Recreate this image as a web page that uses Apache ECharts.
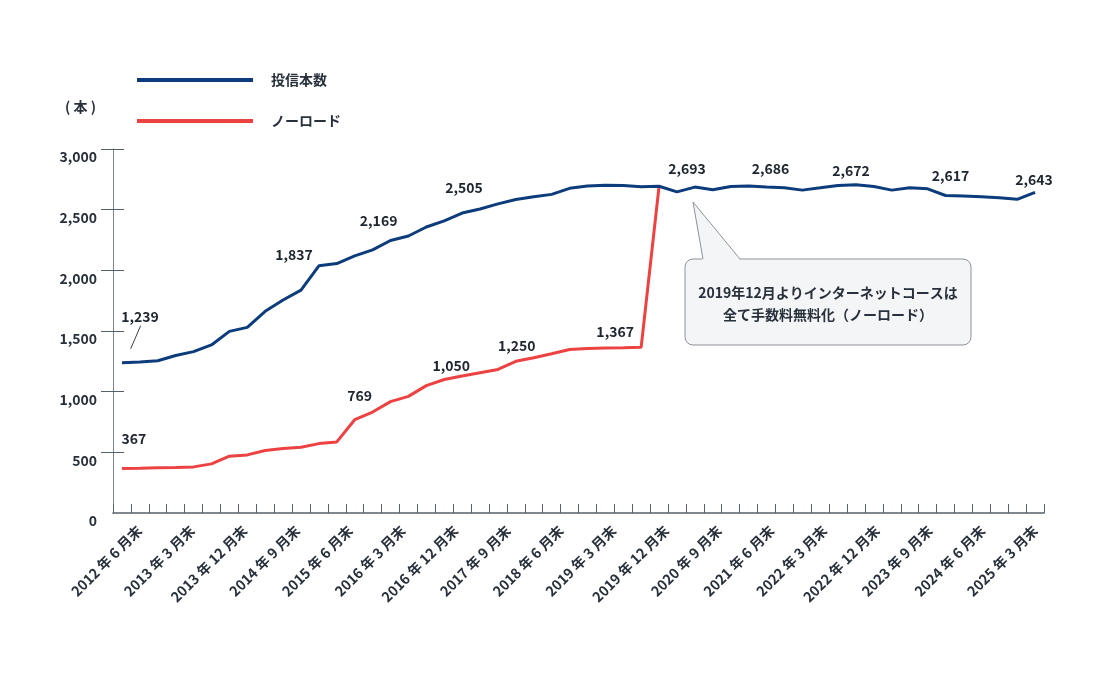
<!DOCTYPE html>
<html><head><meta charset="utf-8">
<script src="https://cdn.jsdelivr.net/npm/echarts@6/dist/echarts.min.js"></script>
<style>html,body{margin:0;padding:0;background:#fff}#c{width:1101px;height:696px}</style>
</head><body><div id="c"></div>
<script>
const quarters = [
 '2012 年 6 月末','2012 年 9 月末','2012 年 12 月末',
 '2013 年 3 月末','2013 年 6 月末','2013 年 9 月末','2013 年 12 月末',
 '2014 年 3 月末','2014 年 6 月末','2014 年 9 月末','2014 年 12 月末',
 '2015 年 3 月末','2015 年 6 月末','2015 年 9 月末','2015 年 12 月末',
 '2016 年 3 月末','2016 年 6 月末','2016 年 9 月末','2016 年 12 月末',
 '2017 年 3 月末','2017 年 6 月末','2017 年 9 月末','2017 年 12 月末',
 '2018 年 3 月末','2018 年 6 月末','2018 年 9 月末','2018 年 12 月末',
 '2019 年 3 月末','2019 年 6 月末','2019 年 9 月末','2019 年 12 月末',
 '2020 年 3 月末','2020 年 6 月末','2020 年 9 月末','2020 年 12 月末',
 '2021 年 3 月末','2021 年 6 月末','2021 年 9 月末','2021 年 12 月末',
 '2022 年 3 月末','2022 年 6 月末','2022 年 9 月末','2022 年 12 月末',
 '2023 年 3 月末','2023 年 6 月末','2023 年 9 月末','2023 年 12 月末',
 '2024 年 3 月末','2024 年 6 月末','2024 年 9 月末','2024 年 12 月末',
 '2025 年 3 月末'
];
const fundCount = [1239,1245,1255,1298,1330,1385,1497,1530,1662,1755,1837,2037,2056,2119,2169,2246,2283,2357,2408,2472,2505,2548,2584,2606,2626,2676,2695,2702,2700,2688,2693,2647,2686,2664,2691,2696,2686,2680,2661,2680,2700,2705,2691,2661,2680,2672,2617,2612,2606,2598,2585,2643];
const noLoad = [367,368,372,375,380,405,468,479,515,531,542,572,586,769,832,918,961,1050,1100,1129,1156,1183,1250,1279,1312,1347,1355,1360,1362,1367,2693];
const yTicks = [0,500,1000,1500,2000,2500,3000];
const fundNoteIdx = [0,10,14,20,30,36,41,46,51];
const fundNoteVal = [1239,1837,2169,2505,2693,2686,2672,2617,2643];
const noLoadNoteIdx = [0,13,17,22,29];
const noLoadNoteVal = [367,769,1050,1250,1367];
const seriesNames = ['投信本数','ノーロード'];
const yUnit = '( 本 )';
const calloutLines = ['2019年12月よりインターネットコースは','全て手数料無料化（ノーロード）'];

const FONT = '"Noto Sans CJK JP","Noto Sans",sans-serif';
const TXT = '#28303c';
const BLUE = '#0c3c7c', RED = '#ec4242';
const AX = '#56606b';
const W = 'bold';

// label offsets (presentation only)
const fundOffsets = [[18,-46],[-7,-35],[6,-29],[-16,-21],[28,-18],[4,-18],[-5,-18],[5,-20],[-1,-13]];
const noLoadOffsets = [[12,-30],[5,-24],[25,-20],[1,-16],[-26,-15]];

function notes(idx, vals, offs){
  return idx.map((i,k)=>({
    coord:[i, vals[k]], value: vals[k],
    label:{offset: offs[k]}
  }));
}
const noteLabel = {show:true, position:'inside', color:'#1e2630', fontSize:14, fontWeight:W, fontFamily:FONT,
  formatter: p => Number(p.value).toLocaleString('en-US')};

const chart = echarts.init(document.getElementById('c'), null, {renderer:'canvas'});
chart.setOption({
  animation:false,
  backgroundColor:'#fff',
  textStyle:{fontFamily:FONT},
  grid:{left:113, right:57, top:149, bottom:183, containLabel:false},
  legend:{
    orient:'vertical', left:132, top:68, itemWidth:116, itemHeight:4, itemGap:27, icon:'rect',
    data:seriesNames,
    textStyle:{fontSize:14, lineHeight:14, color:TXT, fontWeight:W, fontFamily:FONT, padding:[0,0,0,13]}
  },
  xAxis:[
    {type:'category', data:quarters, boundaryGap:true,
     axisLine:{lineStyle:{color:AX, width:1.5}},
     axisTick:{show:true, inside:true, length:9, interval:0, lineStyle:{color:AX}},
     axisLabel:{show:false}, splitLine:{show:false}},
    {type:'category', position:'bottom', data:[''].concat(quarters), boundaryGap:true,
     axisLine:{show:false}, axisTick:{show:false}, splitLine:{show:false},
     axisLabel:{show:true, rotate:45, margin:15, fontSize:14, fontWeight:W, color:TXT, fontFamily:FONT,
       interval:(i)=> i>=1 && (i-1)%3===0}}
  ],
  yAxis:[
    {type:'value', min:0, max:3000, interval:500,
     name:yUnit, nameLocation:'end', nameGap:35,
     nameTextStyle:{align:'right', padding:[0,17,0,0], color:TXT, fontSize:14, fontWeight:W, fontFamily:FONT},
     axisLine:{show:true, lineStyle:{color:'#7c848e', width:1}},
     axisTick:{show:true, length:12, customValues:yTicks.slice(1), lineStyle:{color:AX}},
     axisLabel:{margin:16, verticalAlign:'top', lineHeight:16, color:TXT, fontSize:14, fontWeight:W, fontFamily:FONT,
       customValues:yTicks, formatter:v=>Number(v).toLocaleString('en-US')},
     splitLine:{show:false}},
    {type:'value', min:0, max:3000, interval:500, position:'left',
     axisLine:{show:false},
     axisTick:{show:true, inside:true, length:11, customValues:yTicks.slice(1), lineStyle:{color:AX}},
     axisLabel:{show:false}, splitLine:{show:false}}
  ],
  series:[
    {name:seriesNames[0], type:'line', data:fundCount, symbol:'none', z:4,
     lineStyle:{color:BLUE, width:3}, itemStyle:{color:BLUE},
     markPoint:{symbol:'circle', symbolSize:1, itemStyle:{color:'rgba(0,0,0,0)'}, label:noteLabel,
       data:notes(fundNoteIdx, fundNoteVal, fundOffsets)}},
    {name:seriesNames[1], type:'line', data:noLoad, symbol:'none', z:3,
     lineStyle:{color:RED, width:3}, itemStyle:{color:RED},
     markPoint:{symbol:'circle', symbolSize:1, itemStyle:{color:'rgba(0,0,0,0)'}, label:noteLabel,
       data:notes(noLoadNoteIdx, noLoadNoteVal, noLoadOffsets)}}
  ]
});

const p0 = chart.convertToPixel({xAxisIndex:0, yAxisIndex:0}, [fundNoteIdx[0], fundNoteVal[0]]);
const bx0=685, by0=259, bx1=971, by1=345;
const tip=[693,202];
const FILL='#f4f5f7', STROKE='#8d929a';
chart.setOption({
  graphic:[
    {type:'line', shape:{x1:p0[0]+18.7, y1:p0[1]-37, x2:p0[0]+8.7, y2:p0[1]-13.8}, style:{stroke:'#3a3f46', lineWidth:1}, z:10},
    {type:'rect', shape:{x:bx0, y:by0, width:bx1-bx0, height:by1-by0, r:8}, style:{fill:FILL, stroke:STROKE, lineWidth:1}, z:10},
    {type:'polygon', shape:{points:[[tip[0],tip[1]],[740.5,by0+1.5],[702.5,by0+1.5]]}, style:{fill:FILL}, z:11},
    {type:'polyline', shape:{points:[[703,by0],[tip[0],tip[1]],[740,by0]]}, style:{stroke:STROKE, lineWidth:1, fill:null}, z:12},
    {type:'text', x:828, y:293, z:13, style:{text:calloutLines[0], fill:TXT, font:W+' 14px '+FONT, textAlign:'center', textVerticalAlign:'middle'}},
    {type:'text', x:828, y:315, z:13, style:{text:calloutLines[1], fill:TXT, font:W+' 14px '+FONT, textAlign:'center', textVerticalAlign:'middle'}}
  ]
});
</script></body></html>
